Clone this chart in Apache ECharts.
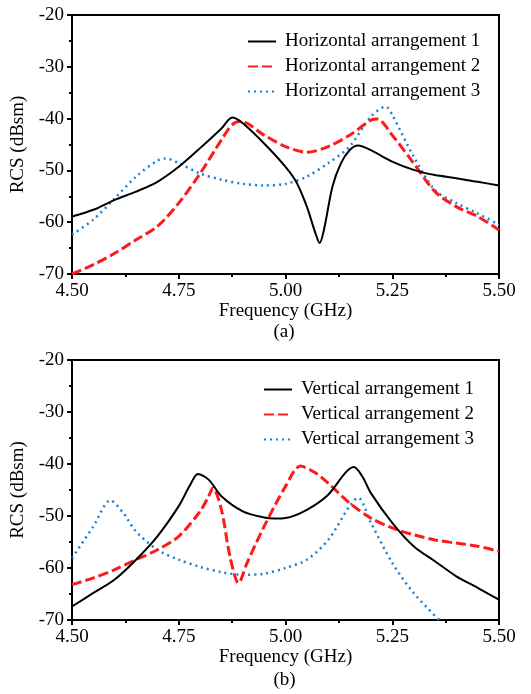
<!DOCTYPE html>
<html><head><meta charset="utf-8">
<script src="https://cdn.jsdelivr.net/npm/echarts@6/dist/echarts.min.js"></script>
<style>html,body{margin:0;padding:0;background:#fff}#c{width:531px;height:694px}</style>
</head><body><div id="c"></div>
<script>
// Panel (a) - horizontal arrangements
const h1F = [4.5,4.55,4.6,4.65,4.7,4.75,4.8,4.85,4.875,4.9,4.95,5.0,5.025,5.05,5.07,5.08,5.09,5.11,5.13,5.15,5.17,5.2,5.25,5.3,5.35,5.4,5.45,5.5];
const h1V = [-58.9,-57.6,-55.7,-54.1,-52.2,-49.3,-45.7,-41.9,-39.8,-40.9,-44.8,-49.3,-52.2,-57.0,-62.1,-64.0,-61.5,-53.1,-48.6,-46.1,-45.2,-46.1,-48.3,-49.9,-50.9,-51.5,-52.2,-52.9];
const h2F = [4.5,4.55,4.6,4.65,4.7,4.75,4.8,4.85,4.875,4.895,4.95,5.0,5.05,5.1,5.15,5.2,5.215,5.25,5.3,5.35,5.4,5.45,5.5];
const h2V = [-70,-68.2,-66,-63.4,-60.8,-56.3,-50.6,-44.1,-41.2,-40.5,-43.2,-45.4,-46.5,-45.4,-43.2,-40.3,-40.1,-43.2,-48.6,-54.1,-57,-58.9,-61.5];
const h3F = [4.5,4.55,4.6,4.65,4.7,4.72,4.75,4.8,4.85,4.9,4.95,5.0,5.05,5.1,5.15,5.2,5.235,5.25,5.3,5.35,5.4,5.45,5.5];
const h3V = [-62.4,-59.5,-55.4,-51.2,-48.1,-47.7,-48.6,-50.6,-51.8,-52.6,-52.9,-52.6,-51.2,-48.6,-45.4,-39.6,-37.7,-39.3,-47.3,-53.8,-56.3,-58.3,-60.5];
// Panel (b) - vertical arrangements
const v1F = [4.5,4.55,4.6,4.65,4.7,4.75,4.775,4.795,4.82,4.85,4.9,4.95,4.975,5.0,5.05,5.1,5.14,5.16,5.18,5.2,5.25,5.3,5.35,5.4,5.45,5.5];
const v1V = [-67.4,-64.8,-62.2,-58.4,-53.9,-48.1,-44.3,-41.9,-43,-46.2,-49.1,-50.3,-50.5,-50.4,-48.8,-45.9,-41.7,-40.6,-42.4,-45.6,-51.3,-55.8,-58.7,-61.6,-63.8,-66.1];
const v2F = [4.5,4.55,4.6,4.65,4.7,4.75,4.8,4.82,4.83,4.85,4.87,4.89,4.91,4.95,5.0,5.035,5.07,5.1,5.15,5.2,5.25,5.3,5.35,5.4,5.45,5.5];
const v2V = [-63.2,-61.9,-60.3,-58.4,-56.5,-53.9,-49.1,-46.2,-44.6,-48.8,-57.8,-62.9,-59,-52,-44.3,-40.4,-41.7,-43.7,-47.5,-50.4,-52.3,-53.6,-54.6,-55.2,-55.8,-56.8];
const v3F = [4.5,4.55,4.59,4.62,4.65,4.7,4.75,4.8,4.85,4.9,4.95,5.0,5.05,5.1,5.15,5.17,5.2,5.25,5.3,5.36];
const v3V = [-58.1,-52,-47,-49.4,-53,-56.5,-58.4,-59.8,-60.8,-61.3,-61.1,-60,-58.4,-54.6,-48.1,-46.5,-51.3,-59,-64.8,-70];

const namesA = ['Horizontal arrangement 1','Horizontal arrangement 2','Horizontal arrangement 3'];
const namesB = ['Vertical arrangement 1','Vertical arrangement 2','Vertical arrangement 3'];
const xTicks = {min:4.5, max:5.5, interval:0.25};
const yTicks = {min:-70, max:-20, interval:10};

const FONT = "'Liberation Serif','Times New Roman',serif";
const pair = (f, v) => f.map((x, i) => [x, v[i]]);
const styles = [
  {type:'solid', color:'#000000', width:2},
  {type:[10,4], color:'#ff1a1a', width:3},
  {type:[2,4], color:'#1a7fd6', width:2.5}
];

function xAx(gi){
  return {type:'value', gridIndex:gi, min:xTicks.min, max:xTicks.max, interval:xTicks.interval,
    name:'Frequency (GHz)', nameLocation:'middle', nameGap:27,
    nameTextStyle:{fontFamily:FONT, fontSize:19, color:'#000'},
    axisLine:{show:true, onZero:false, lineStyle:{color:'#000', width:2}},
    axisTick:{show:true, inside:false, length:5, lineStyle:{color:'#000', width:2}},
    minorTick:{show:true, splitNumber:2, length:3, lineStyle:{color:'#000', width:2}},
    axisLabel:{fontFamily:FONT, fontSize:19, color:'#000', margin:8, formatter:v=>v.toFixed(2)},
    splitLine:{show:false}};
}
function yAx(gi){
  return {type:'value', gridIndex:gi, min:yTicks.min, max:yTicks.max, interval:yTicks.interval,
    name:'RCS (dBsm)', nameLocation:'middle', nameGap:40,
    nameTextStyle:{fontFamily:FONT, fontSize:19, color:'#000'},
    axisLine:{show:true, onZero:false, lineStyle:{color:'#000', width:2}},
    axisTick:{show:true, inside:false, length:5, lineStyle:{color:'#000', width:2}},
    minorTick:{show:true, splitNumber:2, length:3, lineStyle:{color:'#000', width:2}},
    axisLabel:{fontFamily:FONT, fontSize:19, color:'#000', margin:8},
    splitLine:{show:false}};
}
function ser(name, data, gi, si){
  return {type:'line', name:name, data:data, xAxisIndex:gi, yAxisIndex:gi,
    showSymbol:false, symbol:'none', smooth:0.3, clip:true,
    lineStyle:styles[si], itemStyle:{color:styles[si].color}, z:3-si};
}
function leg(names, left, top){
  return {orient:'vertical', left:left, top:top, itemWidth:28, itemHeight:12, itemGap:6,
    itemStyle:{opacity:0},
    data:names, textStyle:{fontFamily:FONT, fontSize:19, color:'#000', lineHeight:19, padding:[0,0,0,4]}};
}

const chart = echarts.init(document.getElementById('c'), null, {renderer:'canvas'});
chart.setOption({
  animation:false,
  backgroundColor:'#fff',
  grid:[
    {left:72, top:15, width:427, height:259, show:true, borderColor:'#000', borderWidth:2, backgroundColor:'transparent'},
    {left:72, top:360, width:427, height:260, show:true, borderColor:'#000', borderWidth:2, backgroundColor:'transparent'}
  ],
  xAxis:[xAx(0), xAx(1)],
  yAxis:[yAx(0), yAx(1)],
  legend:[leg(namesA, 242, 27), leg(namesB, 258, 375)],
  series:[
    ser(namesA[0], pair(h1F,h1V), 0, 0),
    ser(namesA[1], pair(h2F,h2V), 0, 1),
    ser(namesA[2], pair(h3F,h3V), 0, 2),
    ser(namesB[0], pair(v1F,v1V), 1, 0),
    ser(namesB[1], pair(v2F,v2V), 1, 1),
    ser(namesB[2], pair(v3F,v3V), 1, 2)
  ],
  graphic:[
    {type:'text', left:285.5-12, top:323, style:{text:'(a)', font:'19px '+FONT, fill:'#000'}},
    {type:'text', left:285.5-12, top:671, style:{text:'(b)', font:'19px '+FONT, fill:'#000'}}
  ]
});
</script></body></html>
